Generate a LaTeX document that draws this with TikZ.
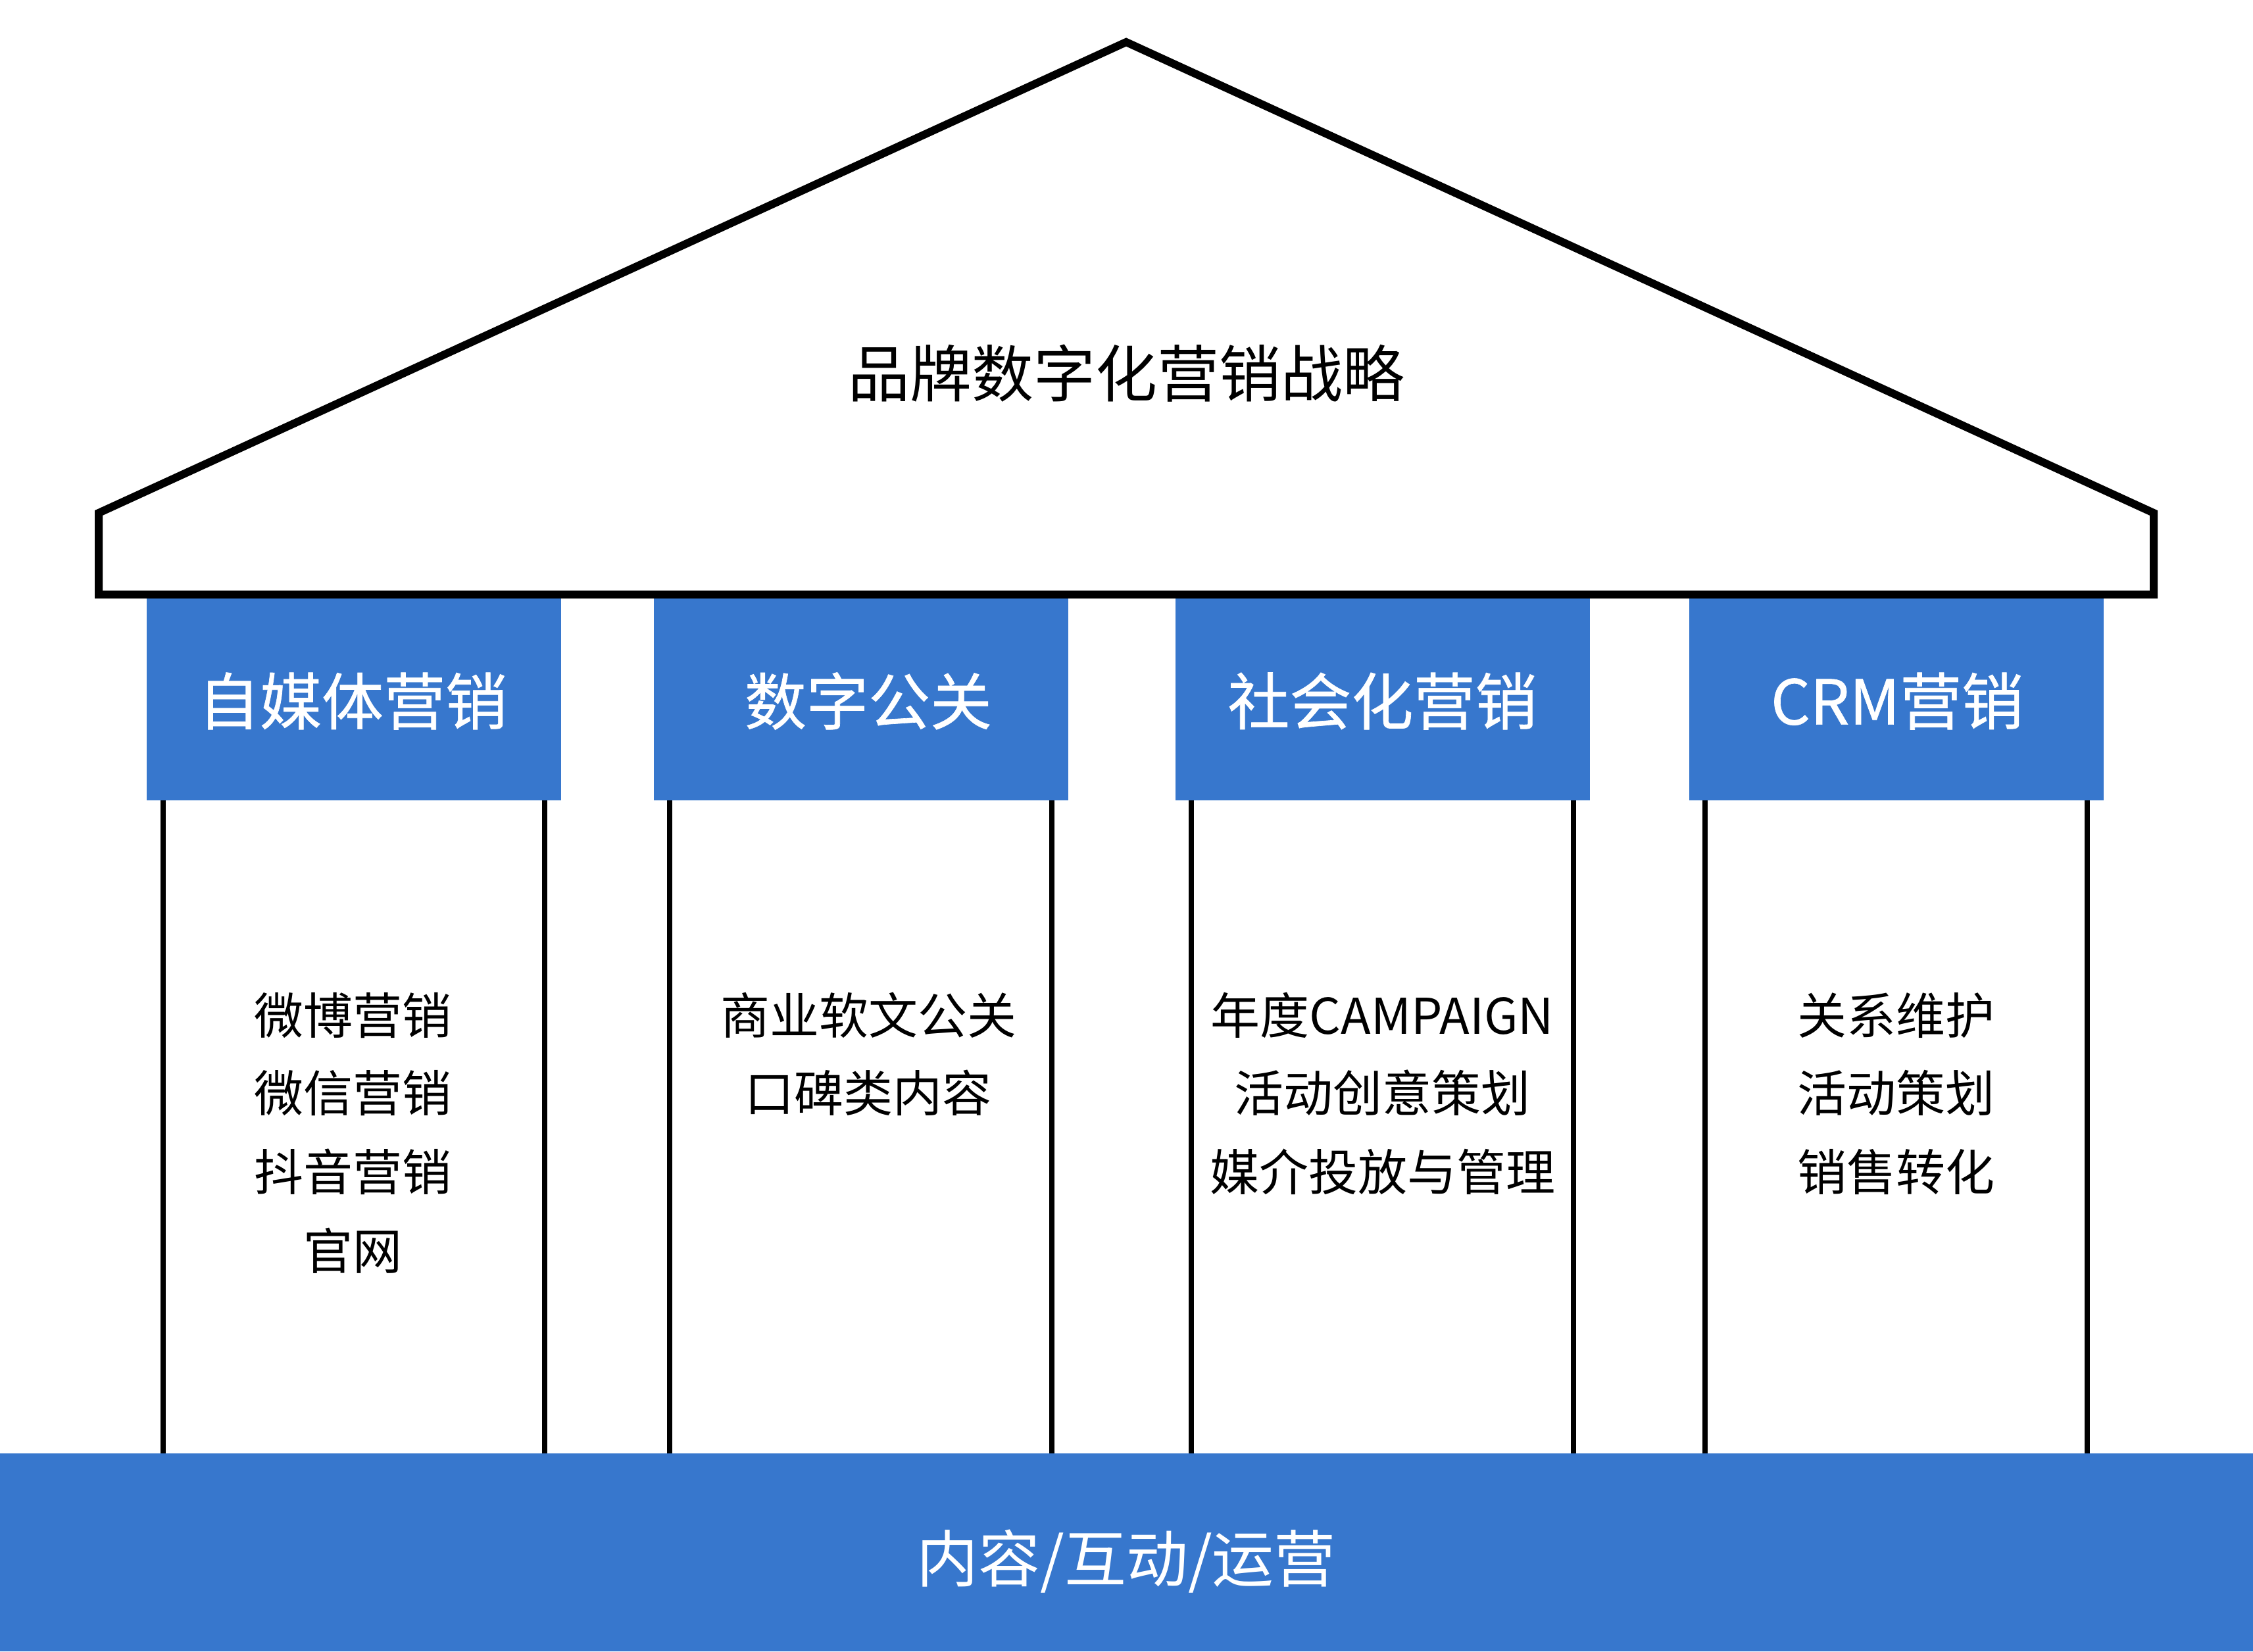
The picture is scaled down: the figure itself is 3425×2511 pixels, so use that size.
\documentclass[tikz,border=0pt]{standalone}
\usepackage{fontspec}
\newfontfamily\cjk{Noto Sans CJK SC}
\newfontfamily\cjkmed[FakeBold=0.7]{Noto Sans CJK SC}
\definecolor{brandblue}{RGB}{55,119,205}
\begin{document}
\begin{tikzpicture}[x=1pt,y=-1pt,
  hbox/.style={fill=brandblue, draw=none, minimum width=630pt, minimum height=319pt, inner sep=0pt},
  htext/.style={text=white, inner sep=0pt, font=\cjkmed\fontsize{94}{112}\selectfont},
  btext/.style={text=black, inner sep=0pt, font=\cjk\fontsize{75}{90}\selectfont},
  roofline/.style={draw=black, line width=12pt, line join=miter},
  pline/.style={draw=black, line width=8pt},
  bigtext/.style={inner sep=0pt, font=\cjk\fontsize{94}{112}\selectfont}
]
\useasboundingbox (0,0) rectangle (3425,2511);
\fill[white] (0,0) rectangle (3425,2511);

% header boxes
\node[hbox] (h1) at (538,1057.5) {};
\node[hbox] (h2) at (1308.5,1057.5) {};
\node[hbox] (h3) at (2101.5,1057.5) {};
\node[hbox] (h4) at (2882.5,1057.5) {};

% pillar lines
\foreach \h in {h1,h2,h3,h4}{
  \coordinate (\h-l) at ([xshift=25pt]\h.south west);
  \coordinate (\h-r) at ([xshift=-25pt]\h.south east);
  \draw[pline] (\h-l) -- (\h-l |- 0,2215);
  \draw[pline] (\h-r) -- (\h-r |- 0,2215);
}

% base band
\node[fill=brandblue, minimum width=3425pt, minimum height=301pt, inner sep=0pt] (band) at (1712.5,2360.5) {};
\node[bigtext, text=white] (bandtext) at (1712,2374) {内容/互动/运营};

% roof
\draw[roofline] (150,904) -- (150,780) -- (1712,64) -- (3274,780) -- (3274,904) -- cycle;
\node[bigtext, text=black] (title) at (1712,568) {品牌数字化营销战略};

% header texts
\node[htext] (t1) at (536,1066) {自媒体营销};
\node[htext] (t2) at (1320,1066) {数字公关};
\node[htext] (t3) at (2101.5,1066) {社会化营销};
\node[htext] (t4) at (2884,1066) {CRM营销};

% column texts
\node[btext] (c1a) at (536,1544) {微博营销};
\node[btext] (c1b) at (536,1662) {微信营销};
\node[btext] (c1c) at (536,1782) {抖音营销};
\node[btext] (c1d) at (536,1902) {官网};

\node[btext] (c2a) at (1320,1544) {商业软文公关};
\node[btext] (c2b) at (1320,1662) {口碑类内容};

\node[btext] (c3a) at (2101.5,1544) {年度CAMPAIGN};
\node[btext] (c3b) at (2101.5,1662) {活动创意策划};
\node[btext] (c3c) at (2101.5,1782) {媒介投放与管理};

\node[btext] (c4a) at (2882.5,1544) {关系维护};
\node[btext] (c4b) at (2882.5,1662) {活动策划};
\node[btext] (c4c) at (2882.5,1782) {销售转化};
\end{tikzpicture}
\end{document}
